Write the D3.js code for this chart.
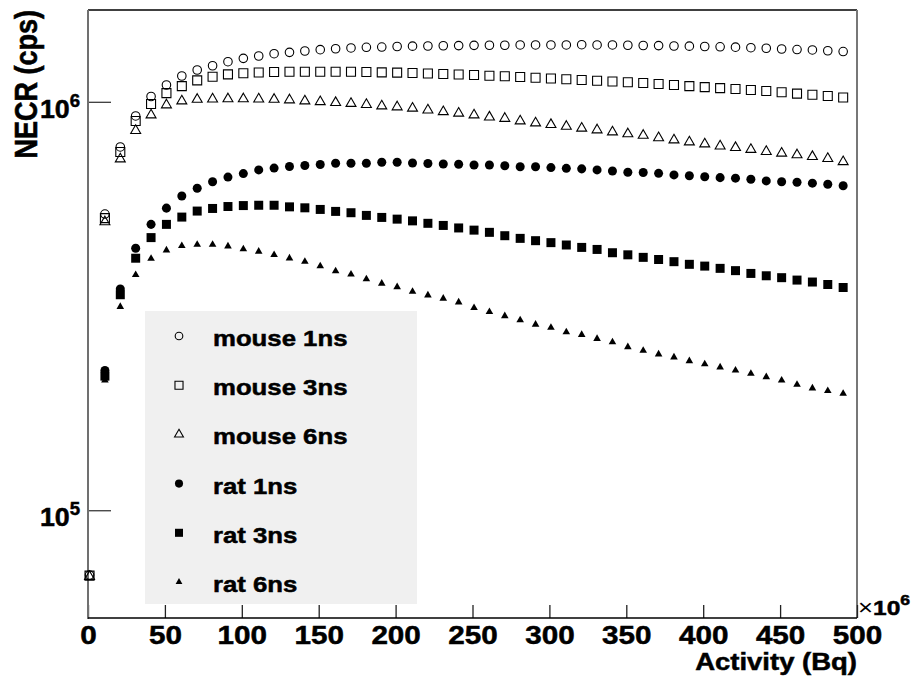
<!DOCTYPE html>
<html>
<head>
<meta charset="utf-8">
<script src="https://cdn.jsdelivr.net/npm/d3@7"></script>
<style>
  body { margin: 0; background: #fff; }
  svg { display: block; }
  text { font-family: "Liberation Sans", Arial, Helvetica, sans-serif; font-weight: bold; fill: #000;
         stroke: #000; stroke-width: 0.5; }
</style>
</head>
<body>
<svg id="chart" width="919" height="681"></svg>
<script>
// activity in units of 10^6 Bq
const activity = [1, 11, 21, 31, 41, 51, 61, 71, 81, 91, 101, 111, 121, 131, 141, 151, 161, 171, 181, 191,
  201, 211, 221, 231, 241, 251, 261, 271, 281, 291, 301, 311, 321, 331, 341, 351, 361, 371, 381, 391,
  401, 411, 421, 431, 441, 451, 461, 471, 481, 491];

// NECR in kcps (null = below the visible range)
const mouse1ns = [69.4, 531, 775, 923, 1030, 1099, 1156, 1196, 1225, 1253, 1277, 1294, 1311, 1321, 1331, 1341, 1348, 1354, 1359, 1361,
  1365, 1368, 1369, 1371, 1372, 1374, 1375, 1375, 1377, 1377, 1377, 1377, 1379, 1377, 1377, 1375, 1373, 1372, 1369, 1368,
  1365, 1363, 1360, 1356, 1352, 1346, 1342, 1339, 1333, 1327];
const mouse3ns = [69.2, 519, 753, 897, 987, 1050, 1092, 1128, 1151, 1167, 1174, 1179, 1182, 1184, 1184, 1184, 1184, 1184, 1182, 1180,
  1178, 1176, 1172, 1169, 1166, 1163, 1158, 1154, 1150, 1145, 1140, 1135, 1130, 1126, 1121, 1116, 1111, 1105, 1099, 1092,
  1086, 1080, 1074, 1068, 1062, 1055, 1047, 1040, 1033, 1024];
const mouse6ns = [68.8, 508, 724, 850, 928, 982, 1004, 1013, 1015, 1016, 1016, 1015, 1013, 1010, 1004, 1000, 995, 990, 984, 976,
  971, 964, 954, 945, 937, 928, 917, 910, 897, 887, 879, 870, 861, 853, 843, 834, 827, 816, 806, 797,
  788, 779, 772, 764, 755, 748, 741, 734, 726, 713];
const rat1ns = [null, 220, 348, 438, 501, 549, 588, 614, 637, 654, 667, 681, 688, 694, 698, 702, 707, 707, 707, 711,
  711, 708, 706, 704, 703, 700, 700, 697, 693, 693, 690, 687, 685, 681, 677, 672, 671, 668, 662, 659,
  655, 652, 650, 646, 640, 637, 635, 632, 628, 623];
const rat3ns = [null, 213, 337, 414, 465, 501, 522, 540, 548, 554, 557, 558, 558, 553, 550, 545, 539, 535, 527, 521,
  516, 511, 504, 498, 491, 485, 479, 470, 463, 457, 452, 446, 440, 435, 427, 422, 416, 411, 406, 400,
  396, 391, 386, 380, 375, 371, 366, 362, 357, 351];
const rat6ns = [null, 208, 315, 377, 413, 433, 444, 447, 447, 443, 436, 430, 422, 414, 406, 396, 385, 378, 368, 359,
  352, 343, 336, 330, 323, 313, 306, 299, 292, 285, 280, 273, 269, 263, 258, 251, 246, 241, 237, 232,
  228, 224, 220, 216, 212, 208, 203, 199, 196, 193];

const seriesNames = ['mouse 1ns', 'mouse 3ns', 'mouse 6ns', 'rat 1ns', 'rat 3ns', 'rat 6ns'];
const xTickValues = [0, 50, 100, 150, 200, 250, 300, 350, 400, 450, 500];
const yTickValues = [1e5, 1e6];

const W = 919, H = 681;
const frame = {left: 88, right: 857, top: 10, bottom: 618};

const x = d3.scaleLinear().domain([0, 500]).range([frame.left, frame.right]);
const y = d3.scaleLog().domain([54.5e3, 1.677e6]).range([frame.bottom, frame.top]);

// the picture is stretched sideways a little, text follows that
const TXT_STRETCH = 1.17;

const svg = d3.select('#chart');
svg.append('rect').attr('width', W).attr('height', H).attr('fill', '#fff');

const series = [
  {name: seriesNames[0], values: mouse1ns, symbol: d3.symbolCircle, size: 57, filled: false},
  {name: seriesNames[1], values: mouse3ns, symbol: d3.symbolSquare, size: 81, filled: false},
  {name: seriesNames[2], values: mouse6ns, symbol: d3.symbolTriangle, size: 43, filled: false},
  {name: seriesNames[3], values: rat1ns, symbol: d3.symbolCircle, size: 64, filled: true},
  {name: seriesNames[4], values: rat3ns, symbol: d3.symbolSquare, size: 81, filled: true},
  {name: seriesNames[5], values: rat6ns, symbol: d3.symbolTriangle, size: 25, filled: true}
];

function styleMarker(sel, s) {
  sel.attr('fill', s.filled ? '#000' : 'none')
    .attr('stroke', s.filled ? 'none' : '#000')
    .attr('stroke-width', 1.1);
}

// ---- frame (horizontal lines crisp, vertical ones soft grey like the picture)
svg.append('line').attr('x1', frame.left).attr('x2', frame.right).attr('y1', frame.top).attr('y2', frame.top)
  .attr('stroke', '#000').attr('stroke-width', 1.5);
svg.append('line').attr('x1', frame.right).attr('x2', frame.right).attr('y1', frame.top).attr('y2', frame.bottom)
  .attr('stroke', '#777').attr('stroke-width', 2);

// ---- x axis
const gx = svg.append('g').attr('transform', `translate(0,${frame.bottom})`);
gx.call(d3.axisBottom(x).tickValues(d3.range(0, 501, 10).filter(v => v % 50)).tickSize(-10).tickFormat(''));
gx.call(d3.axisBottom(x).tickValues(xTickValues).tickSize(-13).tickFormat(d3.format('d')));
gx.selectAll('.domain').remove();
gx.selectAll('.tick line').attr('stroke', '#222').attr('stroke-width', 1.3);
gx.attr('font-family', null).attr('font-size', null);
gx.selectAll('.tick text')
  .attr('y', 26).attr('dy', null)
  .attr('font-size', 26)
  .attr('transform', 'scale(1.14,1)');

// ---- y axis
const gy = svg.append('g').attr('transform', `translate(${frame.left},0)`);
const yMinor = [6e4, 7e4, 8e4, 9e4, 2e5, 3e5, 4e5, 5e5, 6e5, 7e5, 8e5, 9e5];
gy.call(d3.axisLeft(y).tickValues(yMinor).tickSize(-12).tickFormat(''));
gy.call(d3.axisLeft(y).tickValues(yTickValues).tickSize(-23).tickFormat(''));
gy.selectAll('.domain').remove();
gy.selectAll('.tick line').attr('stroke', '#000').attr('stroke-width', 1);

yTickValues.forEach(v => {
  const t = svg.append('g')
    .attr('transform', `translate(80,${y(v) + 16}) scale(1.03,1)`)
    .append('text').attr('text-anchor', 'end').attr('font-size', 26);
  t.append('tspan').text('10');
  t.append('tspan').attr('font-size', 18).attr('dy', -11).text(String(Math.round(Math.log10(v))));
});

// axis lines on top of ticks
svg.append('line').attr('x1', frame.left).attr('x2', frame.left).attr('y1', frame.top).attr('y2', frame.bottom + 1)
  .attr('stroke', '#707070').attr('stroke-width', 2);
svg.append('line').attr('x1', frame.left).attr('x2', frame.right).attr('y1', frame.bottom).attr('y2', frame.bottom)
  .attr('stroke', '#000').attr('stroke-width', 1.6);

// ---- axis titles
const mult = svg.append('g')
  .attr('transform', `translate(${frame.right + 1},615) scale(${TXT_STRETCH},1)`)
  .append('text');
mult.append('tspan').attr('font-weight', 'normal').attr('stroke-width', 0).attr('font-size', 22).text('\u00d7');
mult.append('tspan').attr('font-size', 21).text('10');
mult.append('tspan').attr('font-size', 15).attr('dy', -10).text('6');

svg.append('g')
  .attr('transform', `translate(${frame.right},670) scale(${TXT_STRETCH},1)`)
  .append('text').attr('text-anchor', 'end').attr('font-size', 23.5).text('Activity (Bq)');

svg.append('g')
  .attr('transform', `translate(37,${frame.top}) scale(${TXT_STRETCH},1) rotate(-90)`)
  .append('text').attr('text-anchor', 'end').attr('font-size', 27).text('NECR (cps)');

// ---- data points
series.forEach(s => {
  svg.append('g').selectAll('path')
    .data(activity.map((a, i) => [a, s.values[i]]).filter(d => d[1] != null))
    .join('path')
    .attr('transform', d => `translate(${x(d[0])},${y(d[1] * 1e3)})`)
    .attr('d', d3.symbol(s.symbol, s.size))
    .call(styleMarker, s);
});

// ---- legend
const leg = {x: 145, y: 311, w: 272, h: 293, row0: 336, step: 49.2};
const gl = svg.append('g');
gl.append('rect').attr('x', leg.x).attr('y', leg.y).attr('width', leg.w).attr('height', leg.h).attr('fill', '#f0f0f0');
series.forEach((s, k) => {
  const cy = leg.row0 + k * leg.step;
  gl.append('path')
    .attr('transform', `translate(179,${cy})`)
    .attr('d', d3.symbol(s.symbol, s.size * 0.8))
    .call(styleMarker, s);
  gl.append('g')
    .attr('transform', `translate(213,${cy + 10}) scale(${TXT_STRETCH},1)`)
    .append('text').attr('font-size', 22).text(s.name);
});
</script>
</body>
</html>
